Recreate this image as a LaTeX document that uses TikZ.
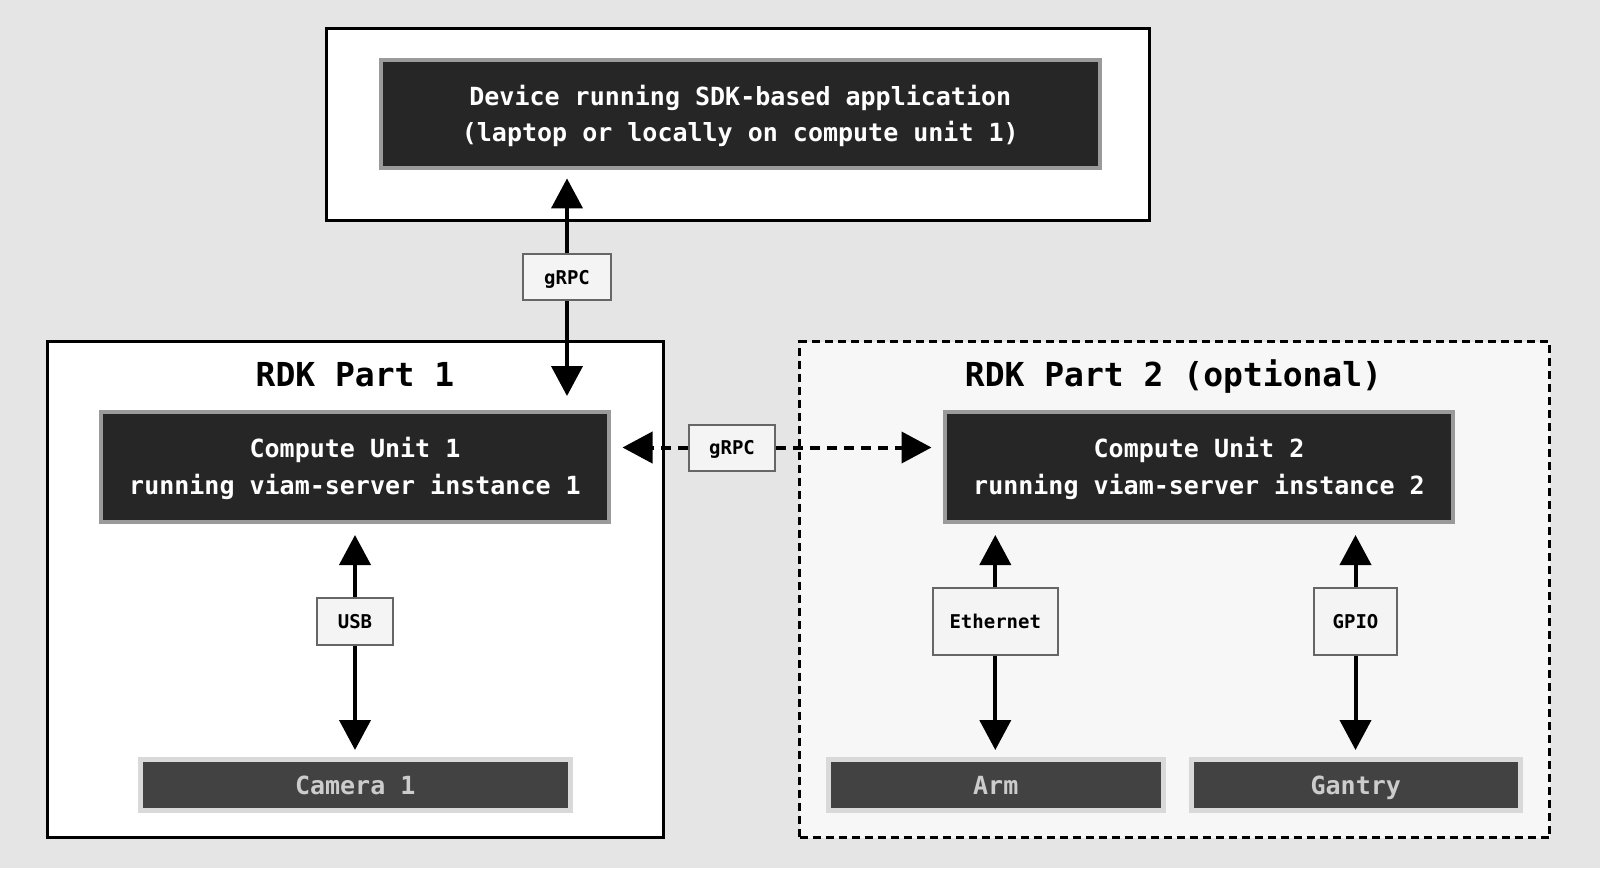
\documentclass[tikz,border=0pt]{standalone}
\usepackage{fontspec}
\setmonofont{DejaVu Sans Mono}
\usetikzlibrary{arrows.meta}
\definecolor{bgc}{HTML}{E5E5E5}
\definecolor{cufill}{HTML}{262626}
\definecolor{cuborder}{HTML}{9A9A9A}
\definecolor{devfill}{HTML}{424242}
\definecolor{devborder}{HTML}{D9D9D9}
\definecolor{devtext}{HTML}{CCCCCC}
\definecolor{lblfill}{HTML}{F4F4F4}
\definecolor{lblborder}{HTML}{666666}
\definecolor{optfill}{HTML}{F7F7F7}
\newcommand{\toppad}{\rule{0pt}{24pt}}
\begin{document}
\begin{tikzpicture}[x=1pt,y=-1pt,
  container/.style={draw=black, line width=3pt, fill=white, inner sep=0pt},
  optcontainer/.style={draw=black, line width=3pt, fill=optfill, inner sep=0pt, dash pattern=on 8pt off 5pt},
  darkbox/.style={draw=cuborder, fill=cufill, line width=4pt, text=white, align=center, inner sep=0pt,
    font=\ttfamily\bfseries\fontsize{25}{36.7}\selectfont},
  devbox/.style={draw=devborder, fill=devfill, line width=5pt, text=devtext, inner sep=0pt,
    minimum height=51pt, text height=18pt, text depth=0pt, font=\ttfamily\bfseries\fontsize{25}{30}\selectfont},
  lbl/.style={draw=lblborder, fill=lblfill, line width=2pt, inner sep=0pt, text height=14pt, text depth=0pt,
    font=\ttfamily\bfseries\fontsize{19}{22}\selectfont},
  titletext/.style={font=\ttfamily\bfseries\fontsize{33}{40}\selectfont, anchor=base},
  link/.style={line width=4pt, -{Triangle[width=31pt,length=30pt]}},
  dlink/.style={line width=4pt, dash pattern=on 10pt off 7pt, -{Triangle[width=31pt,length=30pt]}}
]
\fill[bgc] (0,0) rectangle (1600,868);
\useasboundingbox (0,0) rectangle (1600,868);

% containers
\node[container, minimum width=823.5pt, minimum height=192pt] (top) at (737.75,124) {};
\node[container, minimum width=616pt, minimum height=496pt] (part1) at (355.5,589.5) {};
\node[optcontainer, minimum width=750pt, minimum height=496pt] (part2) at (1174.5,589.5) {};

% titles
\node[titletext] (t1) at (355,386.5) {RDK Part 1};
\node[titletext] (t2) at (1173.5,386.5) {RDK Part 2 (optional)};

% main boxes
\node[darkbox, minimum width=719.4pt, minimum height=108.4pt] (dev) at (740.3,114.2)
  {\toppad Device running SDK-based application\\(laptop or locally on compute unit 1)};
\node[darkbox, minimum width=508pt, minimum height=109.5pt] (cu1) at (355,466.75)
  {\toppad Compute Unit 1\\running viam-server instance 1};
\node[darkbox, minimum width=508pt, minimum height=109.5pt] (cu2) at (1199,466.75)
  {\toppad Compute Unit 2\\running viam-server instance 2};

% devices
\node[devbox, minimum width=429.5pt] (cam) at (355.25,785) {Camera 1};
\node[devbox, minimum width=335.5pt] (arm) at (995.75,785) {Arm};
\node[devbox, minimum width=328.5pt] (gantry) at (1355.75,785) {Gantry};

% labels
\node[lbl, minimum width=88pt, minimum height=46pt] (g1) at (567,277) {gRPC};
\node[lbl, minimum width=86.5pt, minimum height=46pt] (g2) at (732,447.5) {gRPC};
\node[lbl, minimum width=76pt, minimum height=47pt] (usb) at (355,621.5) {USB};
\node[lbl, minimum width=125.4pt, minimum height=67pt] (eth) at (995.3,621.5) {Ethernet};
\node[lbl, minimum width=83pt, minimum height=67pt] (gpio) at (1355.5,621.5) {GPIO};

% connectors
\draw[link, shorten >=8pt] (g1.north) -- (dev.south -| g1.north);
\draw[link, shorten >=14pt] (g1.south) -- (cu1.north -| g1.south);
\draw[dlink, shorten >=11.5pt] (g2.west) -- (cu1.east |- g2.west);
\draw[dlink, shorten >=11.5pt] (g2.east) -- (cu2.west |- g2.east);
\draw[link, shorten >=11.5pt] (usb.north) -- (cu1.south -| usb.north);
\draw[link, shorten >=7pt] (usb.south) -- (cam.north -| usb.south);
\draw[link, shorten >=11.5pt] (eth.north) -- (cu2.south -| eth.north);
\draw[link, shorten >=7pt] (eth.south) -- (arm.north -| eth.south);
\draw[link, shorten >=11.5pt] (gpio.north) -- (cu2.south -| gpio.north);
\draw[link, shorten >=7pt] (gpio.south) -- (gantry.north -| gpio.south);
\end{tikzpicture}
\end{document}
